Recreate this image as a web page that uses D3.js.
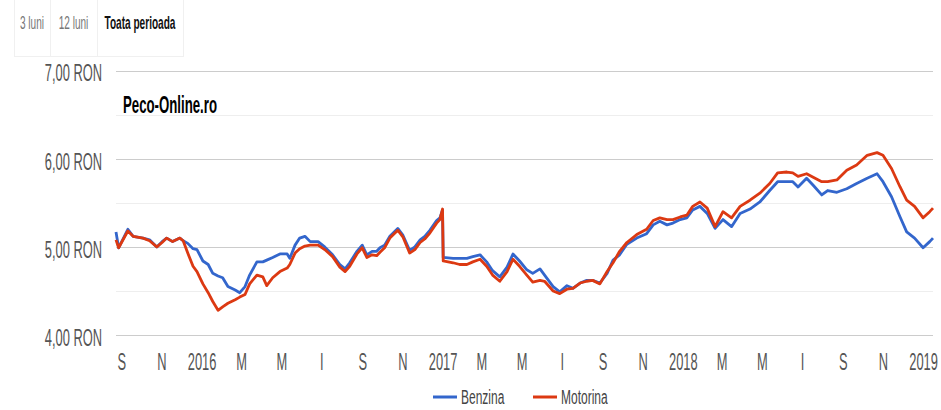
<!DOCTYPE html>
<html>
<head>
<meta charset="utf-8">
<script src="https://cdn.jsdelivr.net/npm/d3@7/dist/d3.min.js"></script>
<style>
  html, body { margin: 0; padding: 0; background: #fff; }
  svg { display: block; }
  text { font-family: "Liberation Sans", Arial, Helvetica, sans-serif; }
</style>
</head>
<body>
<svg id="chart" width="941" height="410"></svg>
<script>
// Daily fuel prices (RON / litre) sampled along the period
const dates = [
  "2015-08-24","2015-08-28","2015-09-11","2015-09-19","2015-10-04","2015-10-14","2015-10-25","2015-11-02",
  "2015-11-09","2015-11-18","2015-11-29","2015-12-04","2015-12-11","2015-12-19","2015-12-25","2016-01-03",
  "2016-01-11","2016-01-18","2016-01-26","2016-02-02","2016-02-10","2016-02-21","2016-02-28","2016-03-07",
  "2016-03-14","2016-03-25","2016-04-03","2016-04-09","2016-04-18","2016-04-29","2016-05-10","2016-05-14",
  "2016-05-22","2016-05-29","2016-06-06","2016-06-14","2016-06-26","2016-07-06","2016-07-18","2016-07-29",
  "2016-08-06","2016-08-13","2016-08-24","2016-09-01","2016-09-08","2016-09-16","2016-09-23","2016-09-28",
  "2016-10-05","2016-10-13","2016-10-25","2016-11-02","2016-11-12","2016-11-20","2016-11-28","2016-12-05",
  "2016-12-13","2016-12-23","2016-12-28","2017-01-01","2017-01-02","2017-01-17","2017-01-27","2017-02-07",
  "2017-02-16","2017-02-27","2017-03-09","2017-03-18","2017-03-29","2017-04-09","2017-04-18","2017-04-28",
  "2017-05-09","2017-05-18","2017-05-29","2017-06-05","2017-06-18","2017-06-28","2017-07-09","2017-07-18",
  "2017-07-29","2017-08-08","2017-08-17","2017-08-28","2017-09-08","2017-09-17","2017-09-27","2017-10-08",
  "2017-10-23","2017-11-07","2017-11-17","2017-11-27","2017-12-08","2017-12-17","2017-12-28","2018-01-07",
  "2018-01-16","2018-01-27","2018-02-07","2018-02-19","2018-03-03","2018-03-16","2018-03-29","2018-04-13",
  "2018-04-28","2018-05-13","2018-05-25","2018-06-08","2018-06-17","2018-06-25","2018-07-08","2018-07-18",
  "2018-07-31","2018-08-09","2018-08-23","2018-09-07","2018-09-22","2018-10-08","2018-10-23","2018-11-01",
  "2018-11-14","2018-11-27","2018-12-07","2018-12-19","2019-01-01","2019-01-11","2019-01-16"
];

const benzina = [
  5.17,4.99,5.20,5.12,5.10,5.08,5.00,5.06,
  5.10,5.06,5.10,5.07,5.04,4.98,4.97,4.84,
  4.80,4.70,4.67,4.65,4.55,4.51,4.48,4.55,
  4.68,4.83,4.83,4.85,4.88,4.92,4.92,4.87,
  5.02,5.10,5.12,5.06,5.06,5.00,4.91,4.80,
  4.75,4.82,4.95,5.02,4.91,4.95,4.95,4.99,
  5.02,5.12,5.21,5.13,4.96,5.00,5.08,5.12,
  5.19,5.30,5.33,5.42,4.88,4.87,4.87,4.87,
  4.89,4.91,4.83,4.73,4.66,4.77,4.92,4.84,
  4.74,4.70,4.75,4.68,4.55,4.49,4.56,4.53,
  4.59,4.62,4.62,4.59,4.70,4.85,4.91,5.03,
  5.10,5.15,5.25,5.29,5.25,5.27,5.31,5.33,
  5.42,5.46,5.38,5.21,5.31,5.23,5.38,5.43,
  5.51,5.64,5.74,5.74,5.74,5.68,5.78,5.70,
  5.59,5.64,5.62,5.66,5.72,5.78,5.83,5.74,
  5.57,5.34,5.17,5.10,4.99,5.06,5.10
];

const motorina = [
  5.08,4.99,5.18,5.12,5.10,5.07,5.00,5.05,
  5.10,5.06,5.10,5.07,4.93,4.78,4.72,4.58,
  4.48,4.38,4.28,4.32,4.36,4.40,4.43,4.46,
  4.58,4.68,4.66,4.56,4.65,4.72,4.76,4.80,
  4.93,4.98,5.01,5.02,5.02,4.97,4.89,4.77,
  4.72,4.78,4.92,4.99,4.88,4.91,4.90,4.94,
  4.99,5.10,5.19,5.11,4.93,4.97,5.05,5.09,
  5.16,5.27,5.31,5.43,4.84,4.82,4.80,4.80,
  4.83,4.86,4.78,4.68,4.61,4.72,4.86,4.78,
  4.68,4.60,4.62,4.61,4.50,4.47,4.52,4.53,
  4.59,4.61,4.62,4.58,4.72,4.82,4.95,5.05,
  5.14,5.20,5.30,5.33,5.31,5.31,5.34,5.36,
  5.46,5.51,5.44,5.23,5.40,5.33,5.46,5.53,
  5.61,5.72,5.84,5.85,5.84,5.80,5.83,5.79,
  5.74,5.74,5.76,5.87,5.93,6.04,6.07,6.04,
  5.89,5.68,5.53,5.46,5.33,5.40,5.44
];

const seriesNames = ["Benzina", "Motorina"];
const seriesColors = ["#3366cc", "#dc3912"];
const rangeButtons = ["3 luni", "12 luni", "Toata perioada"];
const chartTitle = "Peco-Online.ro";
const yTicks = [4, 5, 6, 7];
const yMinorTicks = [4.5, 5.5, 6.5];
const xTicks = [
  "2015-09-01","2015-11-01","2016-01-01","2016-03-01","2016-05-01","2016-07-01","2016-09-01","2016-11-01",
  "2017-01-01","2017-03-01","2017-05-01","2017-07-01","2017-09-01","2017-11-01","2018-01-01","2018-03-01",
  "2018-05-01","2018-07-01","2018-09-01","2018-11-01","2019-01-01"
];
const monthInitials = ["I","F","M","A","M","I","I","A","S","O","N","D"];

const parse = d3.utcParse("%Y-%m-%d");
const SX = 0.56;               // horizontal squeeze applied to all lettering

const svg = d3.select("#chart");
svg.append("rect").attr("width", 941).attr("height", 410).attr("fill", "#fff");

const x = d3.scaleUtc()
  .domain([parse(dates[0]), parse(dates[dates.length - 1])])
  .range([116, 933]);
const y = d3.scaleLinear().domain([4, 7]).range([335, 70.7]);

// range selector buttons
const btnEdges = [14, 50, 97, 183];
const btns = svg.append("g");
rangeButtons.forEach((label, i) => {
  const x0 = btnEdges[i], x1 = btnEdges[i + 1];
  btns.append("rect")
    .attr("x", x0 + 0.5).attr("y", -1).attr("width", x1 - x0).attr("height", 57.5)
    .attr("fill", "#fff").attr("stroke", "#f0f0f0");
  btns.append("text")
    .attr("transform", `translate(${(x0 + x1) / 2},29) scale(${SX},1)`)
    .attr("text-anchor", "middle")
    .attr("font-size", 18)
    .attr("font-weight", i === 2 ? "bold" : "normal")
    .attr("fill", i === 2 ? "#111" : "#777")
    .text(label);
});

// gridlines
const grid = svg.append("g");
grid.selectAll("line.minor").data(yMinorTicks).join("line")
  .attr("class", "minor")
  .attr("x1", 116).attr("x2", 933)
  .attr("y1", d => Math.round(y(d)) + 0.5).attr("y2", d => Math.round(y(d)) + 0.5)
  .attr("stroke", "#eeeeee");
grid.selectAll("line.major").data(yTicks).join("line")
  .attr("class", "major")
  .attr("x1", 116).attr("x2", 933)
  .attr("y1", d => Math.round(y(d)) + 0.5).attr("y2", d => Math.round(y(d)) + 0.5)
  .attr("stroke", "#cccccc");

// y axis labels
const yAxis = d3.axisLeft(y)
  .tickValues(yTicks)
  .tickSize(0)
  .tickFormat(d => d.toFixed(2).replace(".", ",") + " RON");
const gy = svg.append("g").attr("transform", "translate(102,2)").call(yAxis);
gy.select(".domain").remove();
gy.selectAll("text")
  .attr("x", 0).attr("dy", "0.36em")
  .attr("transform", `scale(${SX},1)`)
  .attr("font-size", 23).attr("fill", "#555")
  .attr("font-family", null);

// x axis labels
const xAxis = d3.axisBottom(x)
  .tickValues(xTicks.map(parse))
  .tickSize(0)
  .tickFormat(d => d.getUTCMonth() === 0 ? String(d.getUTCFullYear()) : monthInitials[d.getUTCMonth()]);
const gx = svg.append("g").attr("transform", "translate(0,369.5)").call(xAxis);
gx.select(".domain").remove();
gx.selectAll("text")
  .attr("y", 0).attr("dy", 0)
  .attr("transform", `scale(${SX},1)`)
  .attr("font-size", 23).attr("fill", "#555")
  .attr("font-family", null);

// series lines
const series = [benzina, motorina];
const line = d3.line()
  .x((d, i) => x(parse(dates[i])))
  .y(d => y(d));
series.forEach((vals, s) => {
  svg.append("path")
    .datum(vals)
    .attr("fill", "none")
    .attr("stroke", seriesColors[s])
    .attr("stroke-width", 2.8)
    .attr("stroke-linejoin", "round")
    .attr("d", line);
});

// title
svg.append("text")
  .attr("transform", `translate(123,113) scale(${SX + 0.015},1)`)
  .attr("font-size", 23).attr("font-weight", "bold").attr("fill", "#000")
  .text(chartTitle);

// legend
const legendX = [433, 533];
const legend = svg.append("g");
seriesNames.forEach((name, i) => {
  legend.append("line")
    .attr("x1", legendX[i]).attr("x2", legendX[i] + 24)
    .attr("y1", 397).attr("y2", 397)
    .attr("stroke", seriesColors[i]).attr("stroke-width", 3);
  legend.append("text")
    .attr("transform", `translate(${legendX[i] + 28},404) scale(0.6,1)`)
    .attr("font-size", 20).attr("fill", "#444")
    .text(name);
});
</script>
</body>
</html>
